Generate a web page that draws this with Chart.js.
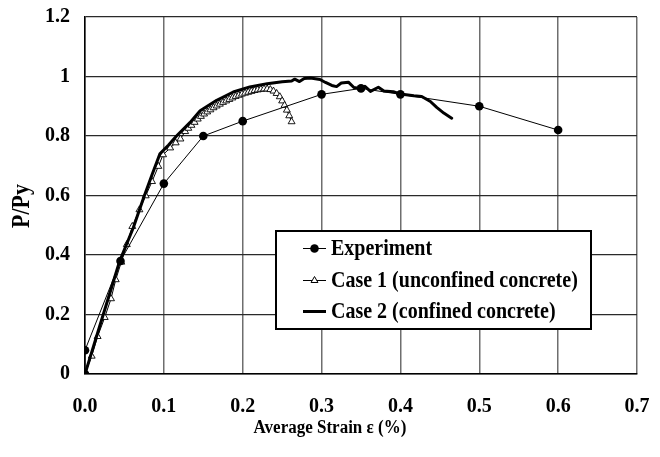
<!DOCTYPE html>
<html><head><meta charset="utf-8">
<script src="https://cdn.jsdelivr.net/npm/chart.js@4.4.1/dist/chart.umd.min.js"></script>
<style>html,body{margin:0;padding:0;background:#fff}#wrap{width:660px;height:457px;position:relative}</style>
</head><body><div id="wrap"><canvas id="c" width="660" height="457"></canvas></div>
<script>
const seriesLabels = ['Experiment', 'Case 1 (unconfined concrete)', 'Case 2 (confined concrete)'];
const xAxisTitle = 'Average Strain ε (%)';
const yAxisTitle = 'P/Py';

const experimentStrain = [0, 0, 0.045, 0.10, 0.15, 0.20, 0.30, 0.35, 0.40, 0.50, 0.60];
const experimentLoad   = [0, 0.08, 0.38, 0.64, 0.80, 0.85, 0.94, 0.96, 0.94, 0.90, 0.82];

const case1Strain = [0, 0.0085, 0.016, 0.025, 0.033, 0.039, 0.046, 0.053, 0.060, 0.069, 0.077, 0.085, 0.093, 0.099, 0.108, 0.115, 0.121,
  0.127, 0.131, 0.135, 0.139, 0.143, 0.147, 0.151, 0.155, 0.159, 0.163, 0.167, 0.171, 0.175, 0.179, 0.183, 0.187, 0.191, 0.195, 0.199,
  0.203, 0.207, 0.211, 0.215, 0.219, 0.223, 0.227, 0.231, 0.235, 0.239, 0.243, 0.247, 0.250, 0.253, 0.256, 0.259, 0.262];
const case1Load = [0, 0.06, 0.126, 0.19, 0.253, 0.317, 0.376, 0.435, 0.496, 0.552, 0.599, 0.647, 0.698, 0.737, 0.760, 0.777, 0.790,
  0.815, 0.826, 0.836, 0.846, 0.857, 0.866, 0.874, 0.881, 0.888, 0.895, 0.901, 0.907, 0.913, 0.918, 0.923, 0.928, 0.933, 0.937, 0.941,
  0.944, 0.947, 0.950, 0.953, 0.955, 0.957, 0.958, 0.958, 0.956, 0.951, 0.943, 0.932, 0.918, 0.903, 0.887, 0.868, 0.848];

const case2Strain = [0, 0.022, 0.044, 0.061, 0.074, 0.085, 0.095, 0.106, 0.116, 0.133, 0.146, 0.167, 0.188, 0.209, 0.231, 0.250, 0.262,
  0.266, 0.272, 0.278, 0.286, 0.298, 0.305, 0.313, 0.319, 0.325, 0.334, 0.341, 0.349, 0.355, 0.362, 0.372, 0.379, 0.391, 0.400,
  0.417, 0.427, 0.438, 0.446, 0.455, 0.465];
const case2Load = [0, 0.19, 0.38, 0.49, 0.59, 0.67, 0.74, 0.77, 0.80, 0.845, 0.885, 0.920, 0.948, 0.965, 0.976, 0.982, 0.985,
  0.991, 0.983, 0.993, 0.995, 0.990, 0.980, 0.970, 0.966, 0.978, 0.981, 0.963, 0.960, 0.967, 0.950, 0.964, 0.951, 0.949, 0.941,
  0.935, 0.933, 0.916, 0.896, 0.877, 0.860];

const xTickLabels = ['0.0', '0.1', '0.2', '0.3', '0.4', '0.5', '0.6', '0.7'];
const yTickLabels = ['0', '0.2', '0.4', '0.6', '0.8', '1', '1.2'];

function pts(xs, ys) { return xs.map((x, i) => ({x: x, y: ys[i]})); }

const FONT = '"Liberation Serif", "Times New Roman", serif';

function tallText(ctx, text, x, y, sy) {
  ctx.save();
  ctx.translate(x, y);
  ctx.scale(1, sy);
  ctx.fillText(text, 0, 0);
  ctx.restore();
}

const decorPlugin = {
  id: 'decor',
  afterDraw(chart) {
    const ctx = chart.ctx;
    ctx.save();
    // axis titles
    ctx.fillStyle = '#000';
    ctx.textAlign = 'center';
    ctx.textBaseline = 'middle';
    ctx.font = 'bold 17px ' + FONT;
    tallText(ctx, xAxisTitle, 330, 428, 1.15);
    ctx.save();
    ctx.translate(23, 206);
    ctx.rotate(-Math.PI / 2);
    ctx.font = 'bold 22px ' + FONT;
    ctx.scale(1, 1.1);
    ctx.fillText(yAxisTitle, 0, 0);
    ctx.restore();

    // legend box
    const bx = 276, by = 231, bw = 315, bh = 98;
    ctx.fillStyle = '#fff';
    ctx.fillRect(bx, by, bw, bh);
    ctx.strokeStyle = '#000';
    ctx.lineWidth = 2;
    ctx.strokeRect(bx, by, bw, bh);
    const rows = [248.5, 280.5, 311.5];
    const x0 = 303, x1 = 326, tx = 331;
    ctx.font = 'bold 20px ' + FONT;
    ctx.textBaseline = 'middle';
    ctx.textAlign = 'left';
    chart.data.datasets.forEach((ds, i) => {
      const y = rows[i];
      ctx.beginPath();
      ctx.strokeStyle = '#000';
      ctx.lineWidth = ds.borderWidth;
      ctx.moveTo(x0, y); ctx.lineTo(x1, y); ctx.stroke();
      const cx = (x0 + x1) / 2;
      if (ds.pointStyle === 'circle' && ds.pointRadius > 0) {
        ctx.beginPath(); ctx.fillStyle = '#000';
        ctx.arc(cx, y, ds.pointRadius, 0, Math.PI * 2); ctx.fill();
      } else if (ds.pointStyle === 'triangle') {
        ctx.fillStyle = '#fff'; ctx.strokeStyle = '#000'; ctx.lineWidth = 1;
        Chart.helpers.drawPoint(ctx, {pointStyle: 'triangle', radius: ds.pointRadius, borderWidth: 1}, cx, y);
      }
      ctx.fillStyle = '#000';
      tallText(ctx, ds.label, tx, y + 1, 1.12);
    });
    ctx.restore();
  }
};

function noOverhang(s) { s.paddingTop = 0; s.paddingBottom = 0; s.paddingLeft = 0; s.paddingRight = 0; }

new Chart(document.getElementById('c'), {
  type: 'scatter',
  data: {
    datasets: [
      { label: seriesLabels[0], data: pts(experimentStrain, experimentLoad), showLine: true,
        borderColor: '#000', backgroundColor: '#000', borderWidth: 1, pointStyle: 'circle',
        pointRadius: 4.3, pointBorderWidth: 0, order: 0 },
      { label: seriesLabels[1], data: pts(case1Strain, case1Load), showLine: true,
        borderColor: '#000', backgroundColor: '#fff', borderWidth: 1, pointStyle: 'triangle',
        pointRadius: 4, pointBorderWidth: 0.9, pointBorderColor: '#000', pointBackgroundColor: '#fff', order: 2 },
      { label: seriesLabels[2], data: pts(case2Strain, case2Load), showLine: true,
        borderColor: '#000', borderWidth: 3, pointRadius: 0, pointStyle: 'line', order: 1,
        borderJoinStyle: 'round', borderCapStyle: 'round' }
    ]
  },
  options: {
    responsive: false,
    animation: false,
    events: [],
    layout: { padding: { left: 0, top: 17, right: 23, bottom: 0 } },
    plugins: { legend: { display: false }, tooltip: { enabled: false } },
    elements: { line: { tension: 0 } },
    scales: {
      x: {
        type: 'linear', min: 0, max: 0.7,
        afterFit(s) { s.height = 83; noOverhang(s); },
        ticks: { stepSize: 0.1, color: '#000', padding: 21,
          font: { family: FONT, size: 20, weight: 'bold' },
          callback: (v, i) => xTickLabels[i] },
        grid: { color: '#6e6e6e', lineWidth: 1.5, drawTicks: false },
        border: { display: true, color: '#000', width: 1.5 },
        title: { display: false }
      },
      y: {
        type: 'linear', min: 0, max: 1.2,
        afterFit(s) { s.width = 85; noOverhang(s); },
        ticks: { stepSize: 0.2, color: '#000', padding: 15,
          font: { family: FONT, size: 20, weight: 'bold' },
          callback: (v, i) => yTickLabels[i] },
        grid: { color: '#2a2a2a', lineWidth: 1.2, drawTicks: false },
        border: { display: true, color: '#000', width: 1.5 },
        title: { display: false }
      }
    }
  },
  plugins: [decorPlugin]
});
</script>
</body></html>
